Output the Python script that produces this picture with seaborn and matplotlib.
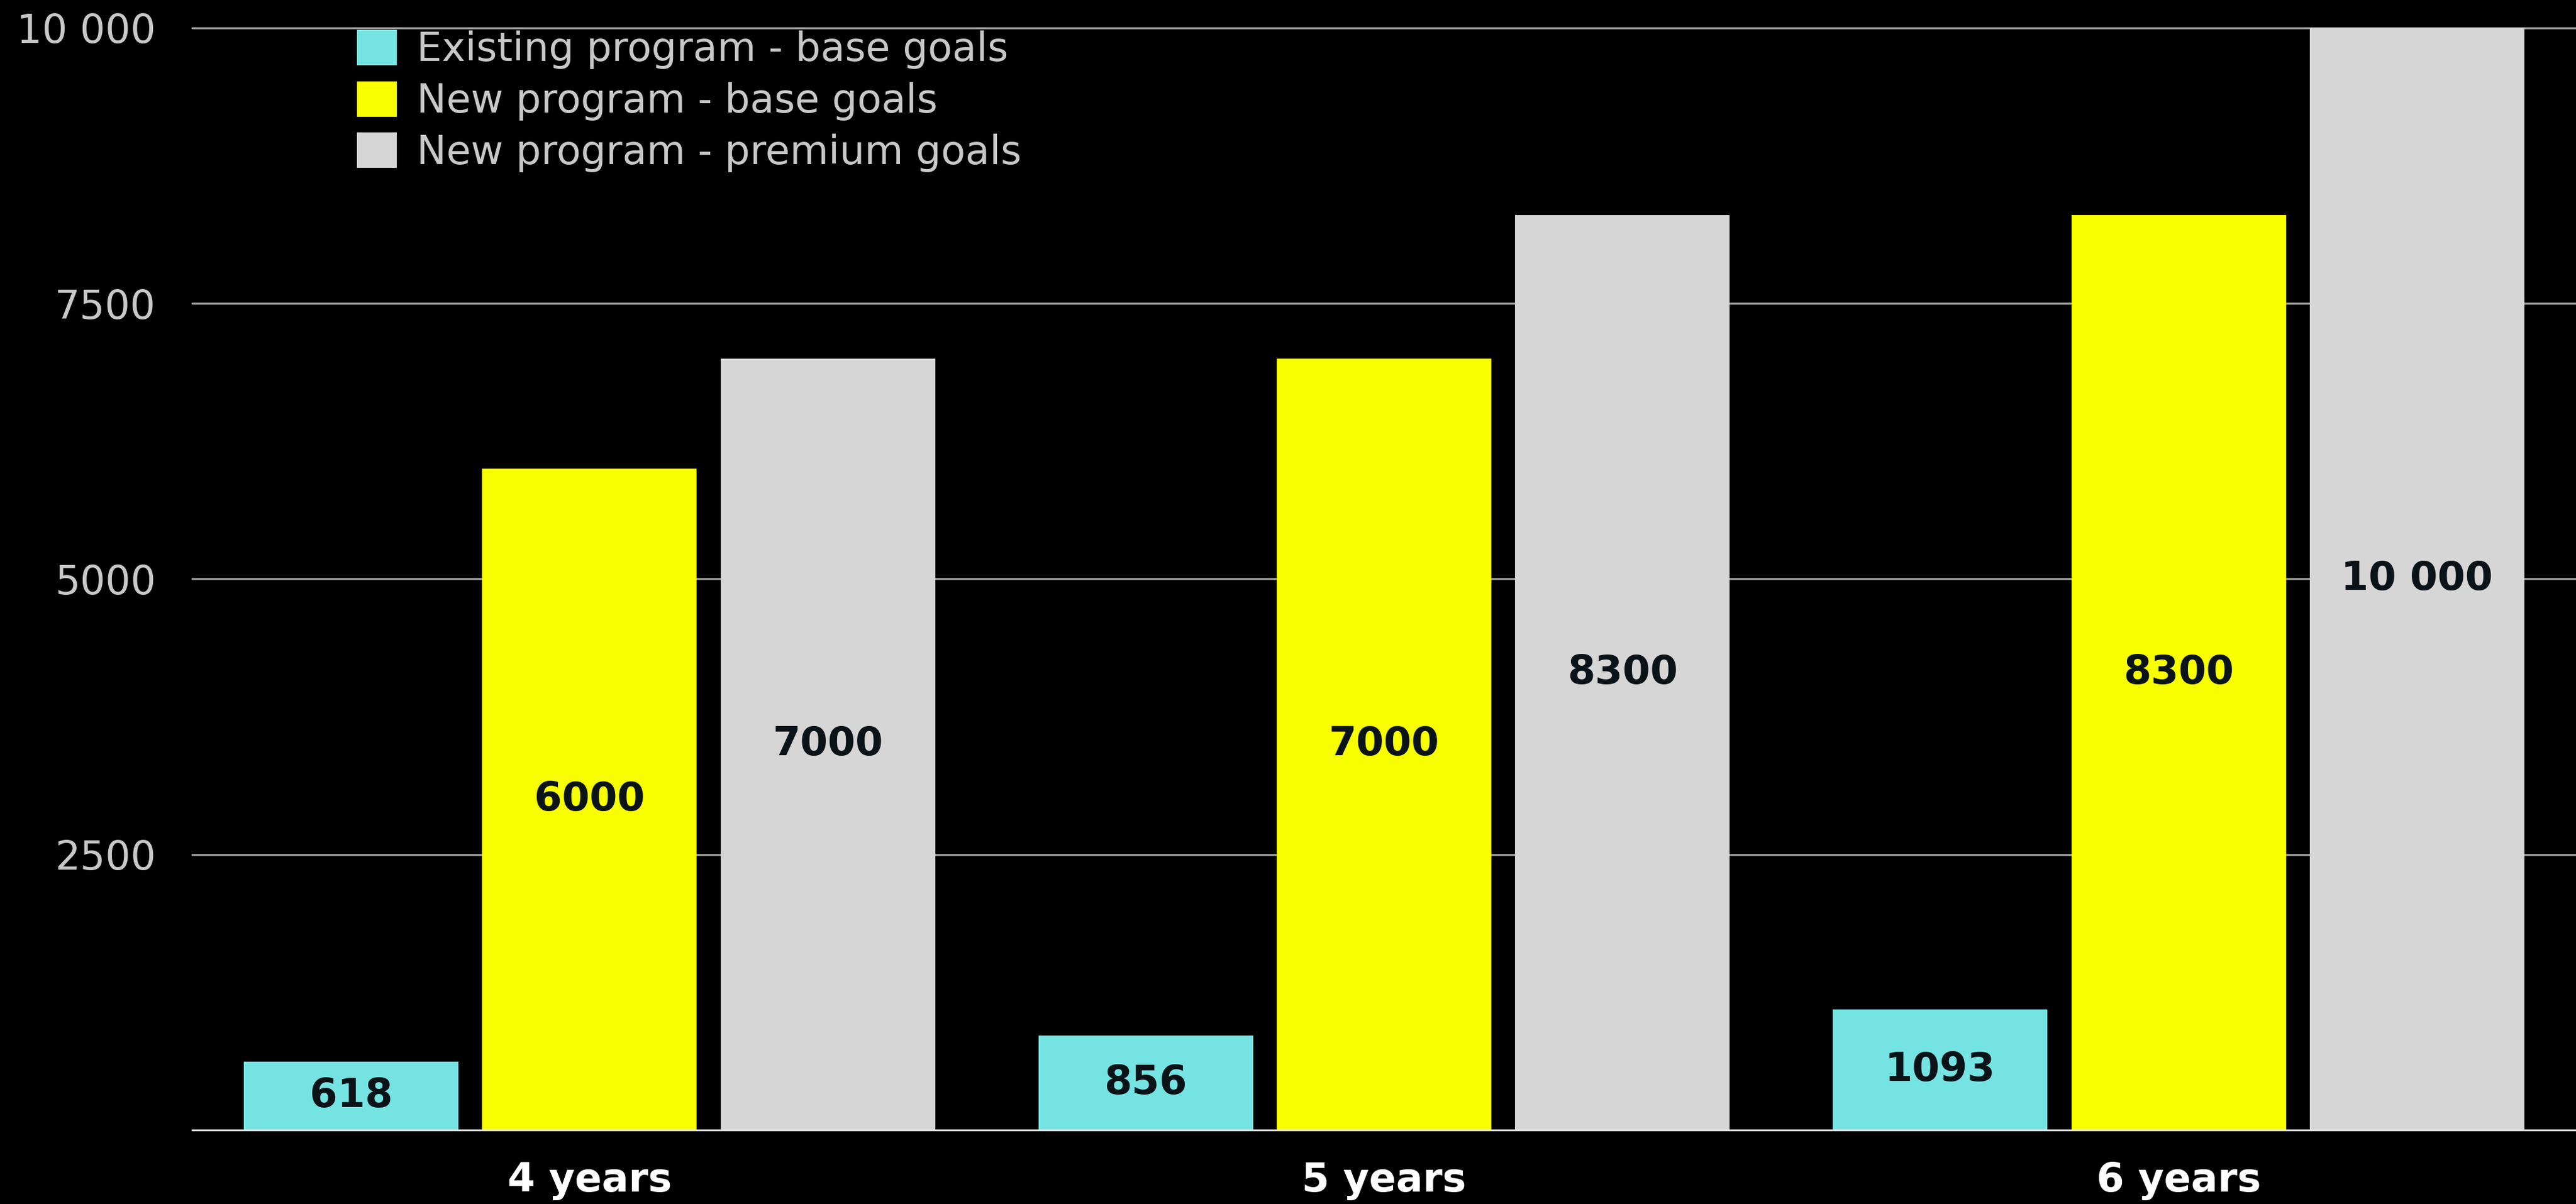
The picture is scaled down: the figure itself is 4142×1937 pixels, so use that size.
import pandas as pd
import matplotlib
matplotlib.use("Agg")
import matplotlib.pyplot as plt
import seaborn as sns

# -------- DATA --------
categories = ["4 years", "5 years", "6 years"]
series_names = [
    "Existing program - base goals",
    "New program - base goals",
    "New program - premium goals",
]
existing_base = [618, 856, 1093]
new_base = [6000, 7000, 8300]
new_premium = [7000, 8300, 10000]
y_ticks = [2500, 5000, 7500, 10000]
y_tick_labels = ["2500", "5000", "7500", "10 000"]

palette = {
    "Existing program - base goals": "#76e3e3",
    "New program - base goals": "#f7ff00",
    "New program - premium goals": "#d6d6d6",
}

df = pd.DataFrame({
    "Period": categories * 3,
    "Program": [series_names[0]] * 3 + [series_names[1]] * 3 + [series_names[2]] * 3,
    "Value": existing_base + new_base + new_premium,
})

# -------- STYLE --------
sns.set_style("dark")
plt.rcParams["font.family"] = ["DejaVu Sans"]

fig = plt.figure(figsize=(41.42, 19.37), dpi=100, facecolor="black")
ax = fig.add_axes([309 / 4142, 1 - 1818 / 1937, 1 - 309 / 4142, (1818 - 45) / 1937])
ax.set_facecolor("black")

sns.barplot(
    data=df, x="Period", y="Value", hue="Program", hue_order=series_names,
    palette=palette, width=0.9, gap=0.1, saturation=1, errorbar=None,
    linewidth=0, ax=ax,
)

ax.set_xlim(-0.5, 2.5)
ax.set_ylim(0, 10000)
ax.set_yticks(y_ticks)
ax.set_yticklabels(y_tick_labels)
ax.set_xlabel("")
ax.set_ylabel("")

ax.set_axisbelow(True)
ax.yaxis.grid(True, color="#9c9c9c", linewidth=2.4)
ax.xaxis.grid(False)
for gl in ax.get_ygridlines():
    gl.set_clip_on(False)

for side in ["top", "left", "right"]:
    ax.spines[side].set_visible(False)
ax.spines["bottom"].set_color("#e8e8e8")
ax.spines["bottom"].set_linewidth(2)

ax.tick_params(axis="y", length=0, pad=42, labelsize=46, labelcolor="#c8c8c8")
ax.tick_params(axis="x", length=0, pad=37, labelsize=46, labelcolor="white")
for lbl in ax.get_xticklabels():
    lbl.set_fontweight("bold")


def fmt(v):
    v = int(round(v))
    return f"{v:,}".replace(",", " ") if v >= 10000 else str(v)


for cont in ax.containers:
    ax.bar_label(cont, labels=[fmt(b.get_height()) for b in cont], label_type="center",
                 fontsize=46, fontweight="bold", color="#0a1418")

handles, labels = ax.get_legend_handles_labels()
ax.legend(
    handles, labels, loc="upper left", bbox_to_anchor=(574 / 4142, 1 - 48 / 1937),
    bbox_transform=fig.transFigure, frameon=False, fontsize=46, labelcolor="#c8c8c8",
    handlelength=1.0, handleheight=1.0, handletextpad=0.5, labelspacing=0.3,
    borderpad=0, borderaxespad=0,
)

plt.savefig("out.png", dpi=100, facecolor="black")
